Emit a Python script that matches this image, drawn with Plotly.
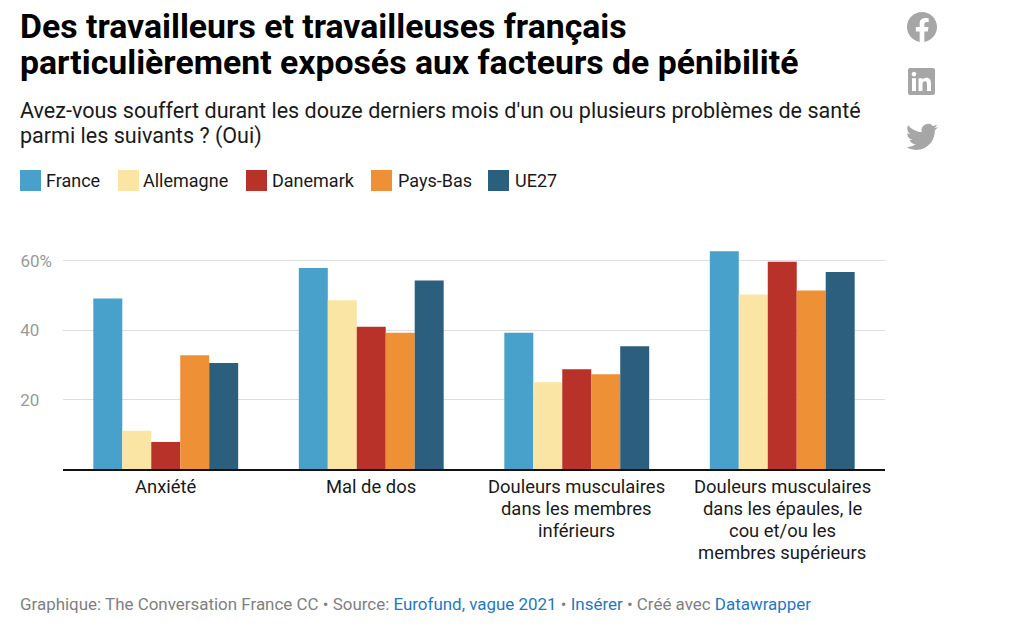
import base64
import plotly.graph_objects as go

categories = ["Anxiété", "Mal de dos",
              "Douleurs musculaires<br>dans les membres<br>inférieurs",
              "Douleurs musculaires<br>dans les épaules, le<br>cou et/ou les<br>membres supérieurs"]
series_names = ["France", "Allemagne", "Danemark", "Pays-Bas", "UE27"]
france = [49.2, 58.0, 39.3, 62.8]
allemagne = [11.0, 48.7, 25.0, 50.3]
danemark = [7.8, 41.0, 28.8, 59.8]
pays_bas = [32.8, 39.3, 27.3, 51.5]
ue27 = [30.6, 54.4, 35.4, 56.8]
colors = ["#47a1ca", "#fae5a5", "#b83229", "#ee9035", "#2b5f7d"]
tick_vals = [20, 40, 60]
tick_text = ["20\u00a0\u00a0\u00a0", "40\u00a0\u00a0\u00a0", "60%"]
legend_x = [20, 118, 246, 371, 488]
legend_text_x = [46, 143, 272, 398, 515]

W, H = 1014, 631
FONT = "Roboto"
PLOT_LEFT, PLOT_RIGHT = 63, 885
PLOT_TOP, PLOT_BOTTOM = 240, 469
PW, PH = PLOT_RIGHT - PLOT_LEFT, PLOT_BOTTOM - PLOT_TOP
px = lambda x: (x - PLOT_LEFT) / PW
py = lambda y: (PLOT_BOTTOM - y) / PH

fig = go.Figure()
for name, vals, col in zip(series_names, [france, allemagne, danemark, pays_bas, ue27], colors):
    fig.add_trace(go.Bar(x=categories, y=vals, name=name, marker=dict(color=col, line=dict(width=0)),
                         hovertemplate="%{y}<extra>" + name + "</extra>"))

ann = []
def text(x, y, s, size, color="#000"):
    # annotation boxes carry 2px of padding, so the left edge is moved back by it
    ann.append(dict(x=px(x - 2), y=py(y), xref="paper", yref="paper", text=s, showarrow=False,
                    xanchor="left", yanchor="middle", align="left", captureevents=False,
                    font=dict(family=FONT, size=size, color=color)))

text(20, 26, "<b>Des travailleurs et travailleuses français</b>", 33.8, "#000")
text(20, 62, "<b>particulièrement exposés aux facteurs de pénibilité</b>", 33.8, "#000")
text(20, 110, "Avez-vous souffert durant les douze derniers mois d'un ou plusieurs problèmes de santé", 21.55, "#1a1a1a")
text(20, 136, "parmi les suivants ? (Oui)", 21.55, "#1a1a1a")
LINK = "#1f78c1"
text(20, 604, ("Graphique: The Conversation France CC • Source: "
               f"<span style='color:{LINK}'>Eurofund, vague 2021</span> • "
               f"<span style='color:{LINK}'>Insérer</span> • Créé avec "
               f"<span style='color:{LINK}'>Datawrapper</span>"), 16.95, "#808080")

# category labels: one text per line for the reference's 22px line spacing
for cat in categories:
    for i, line in enumerate(cat.split("<br>")):
        ann.append(dict(x=cat, xref="x", y=py(486 + 22 * i), yref="paper", text=line, showarrow=False,
                        xanchor="center", yanchor="middle", captureevents=False,
                        font=dict(family=FONT, size=18.4, color="#1a1a1a")))

shapes = []
for lx, tx, name, col in zip(legend_x, legend_text_x, series_names, colors):
    shapes.append(dict(type="rect", xref="paper", yref="paper", x0=px(lx), x1=px(lx + 21),
                       y0=py(191), y1=py(170), fillcolor=col, line=dict(width=0)))
    text(tx, 180, name, 18, "#1a1a1a")

def svg(path):
    s = f'<svg xmlns="http://www.w3.org/2000/svg" viewBox="0 0 24 24"><path fill="#a6a6a6" d="{path}"/></svg>'
    return "data:image/svg+xml;base64," + base64.b64encode(s.encode()).decode()

fb = "M24 12.073c0-6.627-5.373-12-12-12s-12 5.373-12 12c0 5.99 4.388 10.954 10.125 11.854v-8.385H7.078v-3.47h3.047V9.43c0-3.007 1.792-4.669 4.533-4.669 1.312 0 2.686.235 2.686.235v2.953H15.83c-1.491 0-1.956.925-1.956 1.874v2.25h3.328l-.532 3.47h-2.796v8.385C19.612 23.027 24 18.062 24 12.073z"
li = "M20.447 20.452h-3.554v-5.569c0-1.328-.027-3.037-1.852-3.037-1.853 0-2.136 1.445-2.136 2.939v5.667H9.351V9h3.414v1.561h.046c.477-.9 1.637-1.85 3.37-1.85 3.601 0 4.267 2.37 4.267 5.455v6.286zM5.337 7.433c-1.144 0-2.063-.926-2.063-2.065 0-1.138.92-2.063 2.063-2.063 1.14 0 2.064.925 2.064 2.063 0 1.139-.925 2.065-2.064 2.065zm1.782 13.019H3.555V9h3.564v11.452zM22.225 0H1.771C.792 0 0 .774 0 1.729v20.542C0 23.227.792 24 1.771 24h20.451C23.2 24 24 23.227 24 22.271V1.729C24 .774 23.2 0 22.222 0h.003z"
tw = "M23.953 4.57a10 10 0 01-2.825.775 4.958 4.958 0 002.163-2.723c-.951.555-2.005.959-3.127 1.184a4.92 4.92 0 00-8.384 4.482C7.69 8.095 4.067 6.13 1.64 3.162a4.822 4.822 0 00-.666 2.475c0 1.71.87 3.213 2.188 4.096a4.904 4.904 0 01-2.228-.616v.06a4.923 4.923 0 003.946 4.827 4.996 4.996 0 01-2.212.085 4.936 4.936 0 004.604 3.417 9.867 9.867 0 01-6.102 2.105c-.39 0-.779-.023-1.17-.067a13.995 13.995 0 007.557 2.209c9.053 0 13.998-7.496 13.998-13.985 0-.21 0-.42-.015-.63A9.935 9.935 0 0024 4.59z"
images = [dict(source=svg(p), xref="paper", yref="paper", x=px(x), y=py(y), sizex=s / PW, sizey=s / PH,
               xanchor="left", yanchor="top", sizing="contain", layer="above")
          for p, x, y, s in [(fb, 907, 12, 30), (li, 908, 68, 27), (tw, 906, 121, 32)]]

fig.update_layout(
    width=W, height=H, autosize=False,
    margin=dict(l=PLOT_LEFT, r=W - PLOT_RIGHT, t=PLOT_TOP, b=H - PLOT_BOTTOM),
    paper_bgcolor="#fff", plot_bgcolor="#fff",
    barmode="group", bargap=0.295, bargroupgap=0,
    showlegend=False,
    annotations=ann, shapes=shapes, images=images,
    font=dict(family=FONT),
    xaxis=dict(showgrid=False, ticks="", showline=True, linecolor="#111", linewidth=1.5,
               showticklabels=False, automargin=False, fixedrange=True),
    yaxis=dict(range=[0, PH / 3.467], tickvals=tick_vals, ticktext=tick_text,
               showgrid=True, gridcolor="#dedede", gridwidth=1, zeroline=False, showline=False, ticks="",
               ticklabelstandoff=10,
               tickfont=dict(family=FONT, size=17, color="#999"), automargin=False, fixedrange=True),
)
fig.write_html("out.html", config=dict(displayModeBar=False),
               post_script="document.body.style.margin='0';")
